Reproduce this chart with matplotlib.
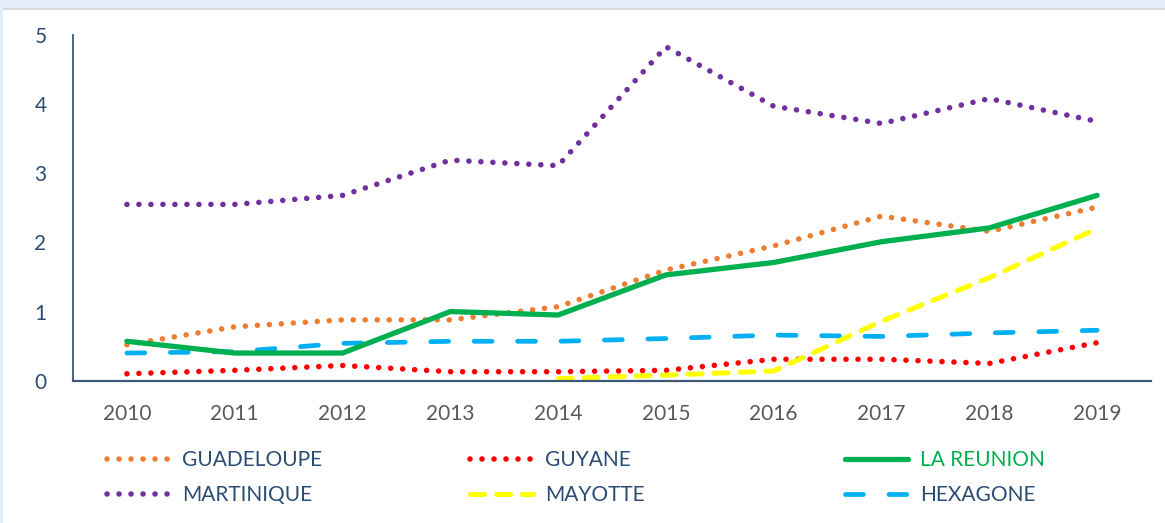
"""
plot.py
Share of ... over 2010-2019, overseas departments vs hexagone.
"""

import numpy as np
import matplotlib as mpl
mpl.use("Agg")
import matplotlib.pyplot as plt
from matplotlib.patches import Rectangle

# Data
# ----------------------------------------------------------------------
YEARS = ["2010", "2011", "2012", "2013", "2014",
         "2015", "2016", "2017", "2018", "2019"]
GUADELOUPE = [0.52, 0.78, 0.88, 0.88, 1.07, 1.60, 1.95, 2.38, 2.16, 2.51]
GUYANE = [0.10, 0.15, 0.22, 0.13, 0.13, 0.15, 0.31, 0.31, 0.25, 0.55]
LA_REUNION = [0.57, 0.40, 0.40, 1.00, 0.95, 1.53, 1.71, 2.01, 2.21, 2.68]
MARTINIQUE = [2.55, 2.55, 2.68, 3.19, 3.11, 4.83, 3.97, 3.72, 4.08, 3.75]
MAYOTTE = [np.nan, np.nan, np.nan, np.nan, 0.03, 0.08, 0.14, 0.86, 1.49, 2.20]
HEXAGONE = [0.40, 0.42, 0.54, 0.57, 0.57, 0.61, 0.66, 0.64, 0.69, 0.73]
# ----------------------------------------------------------------------

# Style
# ----------------------------------------------------------------------
FONT = "Lato"
FONTSIZE = 15
TEXT_BLUE = "#2B4C73"
AXIS_COLOR = "#3E5878"
GRAY = "#595959"
DOT = (0, (0.01, 2.15))
DOT_LW = 4.0
# ----------------------------------------------------------------------


def main():
    mpl.rcParams.update({"font.family": FONT, "font.size": FONTSIZE})
    fig = plt.figure(figsize=(11.65, 5.23), dpi=100)

    # light blue frame of the surrounding page
    fig.patches.append(Rectangle((0, 1 - 8 / 523.), 1, 8 / 523., transform=fig.transFigure,
                                 facecolor="#E3EDF8", edgecolor="none", zorder=0))
    fig.patches.append(Rectangle((0, 1 - 10 / 523.), 1, 2 / 523., transform=fig.transFigure,
                                 facecolor="#D6D9DD", edgecolor="none", zorder=0))
    fig.patches.append(Rectangle((0, 0), 3 / 1165., 1, transform=fig.transFigure,
                                 facecolor="#E3EDF8", edgecolor="none", zorder=0))

    ax = fig.add_axes([73 / 1165., 142.3 / 523., 1078 / 1165., 345.7 / 523.])
    x = np.arange(len(YEARS))

    ax.plot(x, MARTINIQUE, color="#7030A0", lw=DOT_LW, ls=DOT,
            dash_capstyle="round", label="MARTINIQUE")
    ax.plot(x, GUADELOUPE, color="#ED7D31", lw=DOT_LW, ls=DOT,
            dash_capstyle="round", label="GUADELOUPE")
    ax.plot(x, GUYANE, color="#FF0000", lw=DOT_LW, ls=DOT,
            dash_capstyle="round", label="GUYANE")
    ax.plot(x, HEXAGONE, color="#00B0F0", lw=3.4, ls=(0, (3.8, 5.4)),
            dash_capstyle="round", label="HEXAGONE")
    ax.plot(x, MAYOTTE, color="#FFFF00", lw=3.6, ls=(0, (2.8, 2.4)),
            dash_capstyle="round", label="MAYOTTE")
    ax.plot(x, LA_REUNION, color="#00B050", lw=3.8, solid_capstyle="round",
            label="LA REUNION")

    ax.set_xlim(-0.5, len(YEARS) - 0.5)
    ax.set_ylim(0, 5)
    ax.set_xticks(x)
    ax.set_xticklabels(YEARS)
    ax.set_yticks(range(6))
    ax.tick_params(axis="both", length=0)
    ax.tick_params(axis="x", pad=17, colors=GRAY)
    ax.tick_params(axis="y", pad=19, colors=TEXT_BLUE)
    for side in ["top", "right"]:
        ax.spines[side].set_visible(False)
    ax.spines["left"].set_color(AXIS_COLOR)
    ax.spines["left"].set_linewidth(1.3)
    ax.spines["bottom"].set_color(AXIS_COLOR)
    ax.spines["bottom"].set_linewidth(1.6)

    # legend: three columns of two rows
    handles = {line.get_label(): line for line in ax.get_lines()}
    columns = [(107, ["GUADELOUPE", "MARTINIQUE"]),
               (470, ["GUYANE", "MAYOTTE"]),
               (845, ["LA REUNION", "HEXAGONE"])]
    for xpos, names in columns:
        leg = fig.legend([handles[n] for n in names], names,
                         loc="upper left", bbox_to_anchor=(xpos / 1165., 1 - 450 / 523.),
                         frameon=False, handlelength=3.0, handletextpad=0.62,
                         labelspacing=0.74, borderpad=0, borderaxespad=0,
                         fontsize=FONTSIZE)
        for text in leg.get_texts():
            text.set_color("#00B050" if text.get_text() == "LA REUNION" else TEXT_BLUE)

    fig.savefig("out.png", dpi=100, facecolor="white")


if __name__ == "__main__":
    main()
